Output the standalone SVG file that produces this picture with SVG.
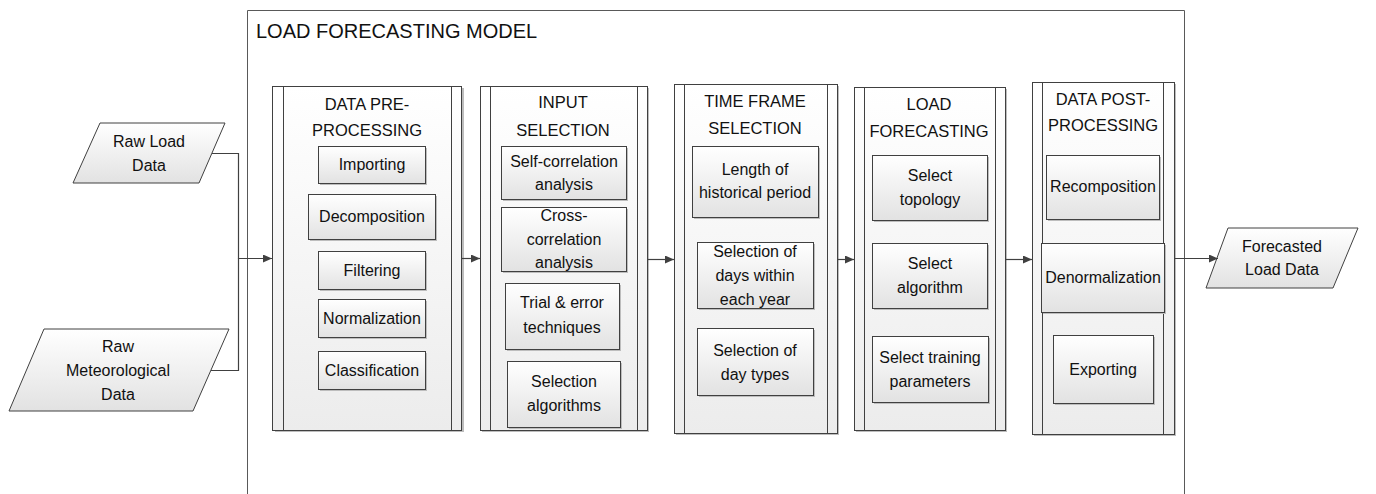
<svg xmlns="http://www.w3.org/2000/svg" width="1376" height="494" viewBox="0 0 1376 494">
<style>
text{font-family:"Liberation Sans",Arial,sans-serif;font-size:16px;fill:#111111;text-anchor:middle}
.title{font-size:20px;text-anchor:start}
.st{font-size:16.5px}
.frame{fill:none;stroke:#595959;stroke-width:1}
.stage{fill:url(#gs);stroke:#404040;stroke-width:1}
.inner{stroke:#404040;stroke-width:1}
.sub{fill:url(#gb);stroke:#404040;stroke-width:1}
.shadow{fill:#bdbdbd}
.io{fill:url(#gb);stroke:#404040;stroke-width:1}
.conn{fill:none;stroke:#404040;stroke-width:1.2}
</style>
<defs>
<linearGradient id="gb" x1="0" y1="0" x2="0" y2="1"><stop offset="0" stop-color="#ffffff"/><stop offset="1" stop-color="#e2e2e2"/></linearGradient>
<linearGradient id="gs" x1="0" y1="0" x2="0" y2="1"><stop offset="0" stop-color="#ffffff"/><stop offset="1" stop-color="#ececec"/></linearGradient>
<marker id="arr" markerUnits="userSpaceOnUse" markerWidth="10" markerHeight="10" refX="9" refY="4" orient="auto"><path d="M0,0 L9,4 L0,8 z" fill="#404040"/></marker>
</defs>
<rect width="1376" height="494" fill="#ffffff"/>
<g id="frame">
<path class="frame" d="M247.5,494 V10.5 H1184.5 V494"/>
<text class="title" x="256" y="38">LOAD FORECASTING MODEL</text>
</g>
<g id="raw-load">
<path class="io" d="M100,123 H225 L199,183 H73 Z"/>
<text x="149" y="147">Raw Load</text>
<text x="149" y="171">Data</text>
</g>
<g id="raw-met">
<path class="io" d="M44,329 H229 L193,411 H9 Z"/>
<text x="118" y="352">Raw</text>
<text x="118" y="376">Meteorological</text>
<text x="118" y="400">Data</text>
</g>
<g id="stage-preprocessing">
<rect class="shadow" x="275" y="88" width="189" height="344"/>
<rect class="stage" x="272.5" y="86.5" width="189" height="344"/>
<line class="inner" x1="283.5" y1="86.5" x2="283.5" y2="430.5"/>
<line class="inner" x1="451.5" y1="86.5" x2="451.5" y2="430.5"/>
<text class="st" x="367" y="110">DATA PRE-</text>
<text class="st" x="367" y="136">PROCESSING</text>
<rect class="shadow" x="320" y="148" width="107" height="37"/>
<rect class="sub" x="318.5" y="146.5" width="107" height="37"/>
<text x="372" y="170">Importing</text>
<rect class="shadow" x="310" y="196" width="127" height="45"/>
<rect class="sub" x="308.5" y="194.5" width="127" height="45"/>
<text x="372" y="222">Decomposition</text>
<rect class="shadow" x="320" y="253" width="107" height="38"/>
<rect class="sub" x="318.5" y="251.5" width="107" height="38"/>
<text x="372" y="276">Filtering</text>
<rect class="shadow" x="320" y="301" width="107" height="38"/>
<rect class="sub" x="318.5" y="299.5" width="107" height="38"/>
<text x="372" y="324">Normalization</text>
<rect class="shadow" x="320" y="353" width="107" height="38"/>
<rect class="sub" x="318.5" y="351.5" width="107" height="38"/>
<text x="372" y="376">Classification</text>
</g>
<g id="stage-input">
<rect class="shadow" x="482" y="88" width="167" height="344"/>
<rect class="stage" x="480.5" y="86.5" width="167" height="344"/>
<line class="inner" x1="490.5" y1="86.5" x2="490.5" y2="430.5"/>
<line class="inner" x1="637.5" y1="86.5" x2="637.5" y2="430.5"/>
<text class="st" x="563" y="108">INPUT</text>
<text class="st" x="563" y="136">SELECTION</text>
<rect class="shadow" x="503" y="148" width="125" height="53"/>
<rect class="sub" x="501.5" y="146.5" width="125" height="53"/>
<text x="564" y="167">Self-correlation</text>
<text x="564" y="190">analysis</text>
<rect class="shadow" x="503" y="209" width="125" height="64"/>
<rect class="sub" x="501.5" y="207.5" width="125" height="64"/>
<text x="564" y="221">Cross-</text>
<text x="564" y="245">correlation</text>
<text x="564" y="268">analysis</text>
<rect class="shadow" x="507" y="285" width="114" height="66"/>
<rect class="sub" x="505.5" y="283.5" width="114" height="66"/>
<text x="562" y="308">Trial &amp; error</text>
<text x="562" y="333">techniques</text>
<rect class="shadow" x="509" y="363" width="113" height="66"/>
<rect class="sub" x="507.5" y="361.5" width="113" height="66"/>
<text x="564" y="387">Selection</text>
<text x="564" y="411">algorithms</text>
</g>
<g id="stage-timeframe">
<rect class="shadow" x="676" y="86" width="163" height="349"/>
<rect class="stage" x="674.5" y="84.5" width="163" height="349"/>
<line class="inner" x1="684.5" y1="84.5" x2="684.5" y2="433.5"/>
<line class="inner" x1="827.5" y1="84.5" x2="827.5" y2="433.5"/>
<text class="st" x="755" y="107">TIME FRAME</text>
<text class="st" x="755" y="134">SELECTION</text>
<rect class="shadow" x="694" y="148" width="126" height="71"/>
<rect class="sub" x="692.5" y="146.5" width="126" height="71"/>
<text x="755" y="175">Length of</text>
<text x="755" y="198">historical period</text>
<rect class="shadow" x="699" y="244" width="116" height="66"/>
<rect class="sub" x="697.5" y="242.5" width="116" height="66"/>
<text x="755" y="257">Selection of</text>
<text x="755" y="281">days within</text>
<text x="755" y="305">each year</text>
<rect class="shadow" x="699" y="330" width="116" height="67"/>
<rect class="sub" x="697.5" y="328.5" width="116" height="67"/>
<text x="755" y="356">Selection of</text>
<text x="755" y="380">day types</text>
</g>
<g id="stage-forecasting">
<rect class="shadow" x="856" y="89" width="151" height="343"/>
<rect class="stage" x="854.5" y="87.5" width="151" height="343"/>
<line class="inner" x1="864.5" y1="87.5" x2="864.5" y2="430.5"/>
<line class="inner" x1="995.5" y1="87.5" x2="995.5" y2="430.5"/>
<text class="st" x="929" y="110">LOAD</text>
<text class="st" x="929" y="137">FORECASTING</text>
<rect class="shadow" x="874" y="157" width="115" height="65"/>
<rect class="sub" x="872.5" y="155.5" width="115" height="65"/>
<text x="930" y="181">Select</text>
<text x="930" y="205">topology</text>
<rect class="shadow" x="874" y="245" width="115" height="65"/>
<rect class="sub" x="872.5" y="243.5" width="115" height="65"/>
<text x="930" y="269">Select</text>
<text x="930" y="293">algorithm</text>
<rect class="shadow" x="874" y="338" width="116" height="66"/>
<rect class="sub" x="872.5" y="336.5" width="116" height="66"/>
<text x="930" y="363">Select training</text>
<text x="930" y="387">parameters</text>
</g>
<g id="stage-postprocessing">
<rect class="shadow" x="1034" y="84" width="142" height="352"/>
<rect class="stage" x="1032.5" y="82.5" width="142" height="352"/>
<line class="inner" x1="1042.5" y1="82.5" x2="1042.5" y2="434.5"/>
<line class="inner" x1="1163.5" y1="82.5" x2="1163.5" y2="434.5"/>
<text class="st" x="1103" y="105">DATA POST-</text>
<text class="st" x="1103" y="131">PROCESSING</text>
<rect class="shadow" x="1048" y="157" width="113" height="64"/>
<rect class="sub" x="1046.5" y="155.5" width="113" height="64"/>
<text x="1103" y="192">Recomposition</text>
<rect class="shadow" x="1043" y="245" width="123" height="69"/>
<rect class="sub" x="1041.5" y="243.5" width="123" height="69"/>
<text x="1103" y="283">Denormalization</text>
<rect class="shadow" x="1055" y="337" width="100" height="68"/>
<rect class="sub" x="1053.5" y="335.5" width="100" height="68"/>
<text x="1103" y="375">Exporting</text>
</g>
<g id="forecasted">
<path class="io" d="M1228,228 H1358 L1333,288 H1206 Z"/>
<text x="1282" y="252">Forecasted</text>
<text x="1282" y="275">Load Data</text>
</g>
<g id="connectors">
<path class="conn" d="M212,153.5 H238.5 V258.5 H272" marker-end="url(#arr)"/>
<path class="conn" d="M211,370.5 H238.5 V258.5"/>
<path class="conn" d="M462,258.5 H480" marker-end="url(#arr)"/>
<path class="conn" d="M648,259.5 H674" marker-end="url(#arr)"/>
<path class="conn" d="M838,259.5 H854" marker-end="url(#arr)"/>
<path class="conn" d="M1006,259.5 H1032" marker-end="url(#arr)"/>
<path class="conn" d="M1175,258.5 H1218" marker-end="url(#arr)"/>
</g>
</svg>
